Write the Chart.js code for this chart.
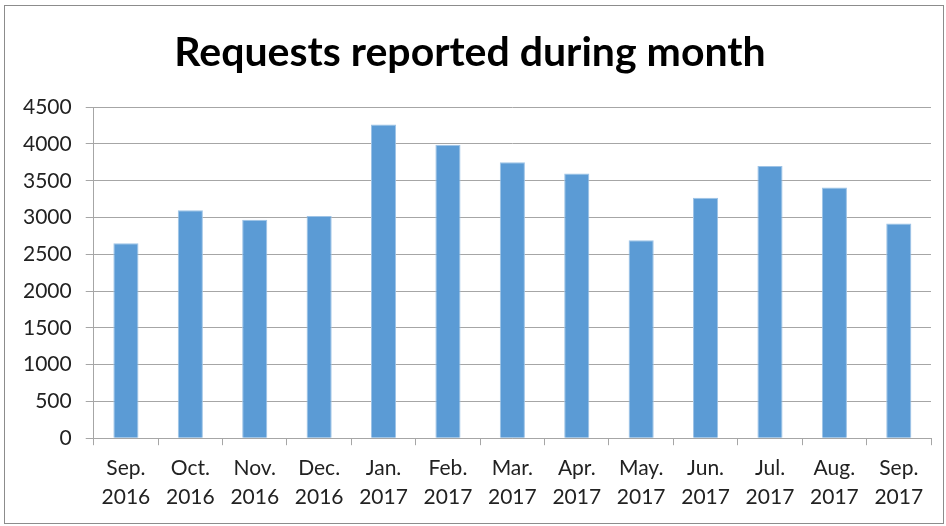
<!DOCTYPE html>
<html>
<head>
<meta charset="utf-8">
<script src="https://cdn.jsdelivr.net/npm/chart.js@4.4.0/dist/chart.umd.min.js"></script>
<style>
  body { margin: 0; background: #fff; }
  #box { position: absolute; left: 4px; top: 5px; width: 938px; height: 517px; border: 1px solid #8c8c8c; }
</style>
</head>
<body>
<div id="box"><canvas id="chart"></canvas></div>
<script>
// Données du graphique
const months = [
  ['Sep.', '2016'], ['Oct.', '2016'], ['Nov.', '2016'], ['Dec.', '2016'],
  ['Jan.', '2017'], ['Feb.', '2017'], ['Mar.', '2017'], ['Apr.', '2017'],
  ['May.', '2017'], ['Jun.', '2017'], ['Jul.', '2017'], ['Aug.', '2017'], ['Sep.', '2017']
];
const requests = [2650, 3100, 2970, 3020, 4265, 3990, 3750, 3600, 2690, 3270, 3700, 3410, 2920];
const yMax = 4500;
const yStep = 500;

const gridColor = '#a6a6a6';
const textColor = '#222';
const fontFamily = "'Lato', sans-serif";

document.addEventListener('DOMContentLoaded', function() {
    const ctx = document.getElementById('chart');
    new Chart(ctx, {
        type: 'bar',
        data: {
            labels: months,
            datasets: [{
                data: requests,
                backgroundColor: '#5b9bd5',
                borderColor: '#9dc3e6',
                borderWidth: 1,
                barPercentage: 0.39,
                categoryPercentage: 1
            }]
        },
        options: {
            responsive: true,
            maintainAspectRatio: false,
            animation: false,
            layout: { padding: { left: 4, right: 12, top: 10, bottom: 3 } },
            plugins: {
                legend: { display: false },
                tooltip: { enabled: false },
                title: {
                    display: true,
                    text: 'Requests reported during month',
                    color: '#000',
                    font: { family: fontFamily, size: 41, weight: 'bold' },
                    padding: { top: 12, bottom: 30 }
                }
            },
            scales: {
                x: {
                    grid: { offset: true, drawOnChartArea: false, color: gridColor, tickLength: 7 },
                    border: { color: gridColor },
                    ticks: { color: textColor, font: { family: fontFamily, size: 21, lineHeight: 1.4 }, padding: 8, maxRotation: 0 }
                },
                y: {
                    min: 0,
                    max: yMax,
                    grid: { color: gridColor, tickLength: 8 },
                    border: { color: gridColor },
                    ticks: {
                        stepSize: yStep,
                        color: textColor,
                        font: { family: fontFamily, size: 21 },
                        padding: 14,
                        callback: function(value) {
                            return String(value);
                        }
                    }
                }
            }
        }
    });
});
</script>
</body>
</html>
